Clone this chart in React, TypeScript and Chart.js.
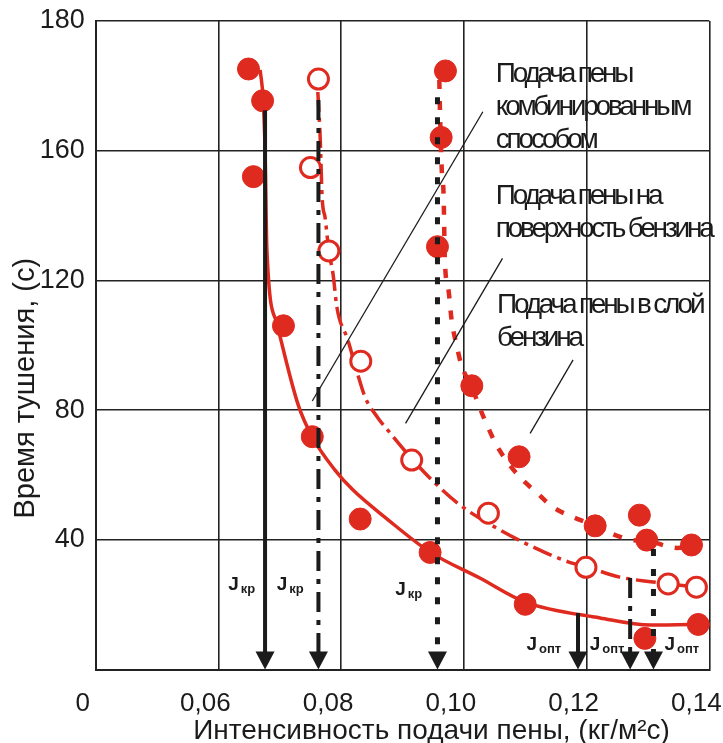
import React, { useEffect, useRef } from 'react';
import { Chart, registerables } from 'chart.js';

Chart.register(...registerables);

// ---------- axes ----------
const xTickValues = [0.04, 0.06, 0.08, 0.1, 0.12, 0.14];
const xTickLabels = ['0', '0,06', '0,08', '0,10', '0,12', '0,14'];
const yTickValues = [0, 40, 80, 120, 160, 200];
const yTickLabels = ['', '40', '80', '120', '160', '180'];
const xTitle = 'Интенсивность подачи пены, (кг/м²с)';
const yTitle = 'Время тушения, (с)';

// ---------- measured points ----------
// combined feed (filled circles, solid curve)
const combX = [0.0649, 0.0672, 0.0657, 0.0706, 0.0753, 0.0831, 0.0945, 0.11, 0.1295, 0.1382];
const combY = [185.2, 175.4, 152.0, 106.0, 71.8, 46.4, 36.1, 20.1, 9.6, 13.9];
// feed onto the surface (hollow circles, dash-dot curve)
const surfX = [0.0763, 0.075, 0.078, 0.0832, 0.0915, 0.104, 0.1199, 0.1333, 0.1379];
const surfY = [182.1, 154.8, 129.1, 95.1, 64.6, 48.2, 31.5, 26.4, 25.4];
// feed into the layer (filled circles, dashed curve)
const layerX = [0.097, 0.0963, 0.0957, 0.1013, 0.109, 0.1214, 0.1286, 0.1298, 0.1371];
const layerY = [184.6, 164.1, 130.4, 87.5, 65.6, 44.3, 47.6, 39.9, 38.4];

// ---------- fitted curves ----------
const combCurveX = [0.0668, 0.0673, 0.0676, 0.0679, 0.0695, 0.073, 0.0753, 0.079, 0.0819, 0.0875, 0.0945, 0.1026, 0.11, 0.1222, 0.1304, 0.14];
const combCurveY = [184.9, 175.7, 160.3, 129.4, 106.9, 81.6, 71.7, 61.5, 55.4, 46.4, 36.2, 28.2, 20.8, 15.9, 13.7, 14.0];
const surfCurveX = [0.0762, 0.0766, 0.0769, 0.0774, 0.078, 0.0787, 0.0793, 0.0811, 0.0826, 0.0839, 0.086, 0.088, 0.0917, 0.0953, 0.0994, 0.1059, 0.1116, 0.117, 0.1201, 0.1254, 0.1308, 0.138];
const surfCurveY = [178.1, 163.3, 145.7, 139.2, 129.1, 121.7, 111.8, 101.6, 91.7, 84.0, 77.6, 72.9, 64.6, 57.5, 50.7, 43.0, 37.5, 33.2, 31.6, 28.5, 27.0, 25.4];
const layerCurveX = [0.096, 0.0961, 0.0964, 0.0967, 0.0969, 0.0975, 0.098, 0.0988, 0.0996, 0.1012, 0.1034, 0.1055, 0.1088, 0.1119, 0.1145, 0.1178, 0.1214, 0.1242, 0.1276, 0.13, 0.1348, 0.1371];
const layerCurveY = [181.8, 172.6, 154.0, 146.3, 126.3, 117.0, 107.8, 100.1, 93.9, 87.4, 77.0, 68.6, 60.0, 54.5, 50.1, 47.0, 44.3, 41.8, 39.9, 39.6, 37.5, 37.8];

// ---------- critical / optimal intensity arrows ----------
const arrowX = [0.0676, 0.0763, 0.0957, 0.1186, 0.1271, 0.1309];
const arrowTop = [172.5, 175.6, 176.5, 17.4, 28.2, 37.2];
const arrowKind = ['solid', 'dashdot', 'dotted', 'solid', 'dashdot', 'dotted'];
const arrowSub = ['кр', 'кр', 'кр', 'опт', 'опт', 'опт'];
const arrowLabelX = [0.0616, 0.0695, 0.0888, 0.1102, 0.1205, 0.1327];
const arrowLabelY = [24.5, 24.5, 23.0, 6.0, 6.0, 6.0];

// ---------- callouts ----------
const noteLines = [
  ['Подача пены', 'комбинированным', 'способом'],
  ['Подача пены на', 'поверхность бензина'],
  ['Подача пены в слой', 'бензина'],
];
const noteX = [0.1052, 0.1052, 0.1054];
const noteY = [181.2, 143.6, 110.0];
const leader1 = [{ x: 0.1031, y: 172.0 }, { x: 0.0753, y: 82.8 }];
const leader2 = [{ x: 0.1063, y: 126.8 }, { x: 0.0905, y: 75.9 }];
const leader3 = [{ x: 0.1178, y: 95.5 }, { x: 0.1108, y: 72.8 }];

// ---------- styles ----------
const RED = '#df2a1f';
const INK = '#1b1b1b';
const GRID = '#222222';
const FONT = "'Liberation Sans', Arial, Helvetica, sans-serif";

const zip = (xs: number[], ys: number[]) => xs.map((x, i) => ({ x, y: ys[i] }));

const dashFor: Record<string, number[]> = {
  solid: [],
  dashdot: [20, 8, 5, 8],
  dotted: [7, 13],
};
const widthFor: Record<string, number> = { solid: 4, dashdot: 4, dotted: 5 };

function drawSpaced(ctx: CanvasRenderingContext2D, text: string, x: number, y: number, spacing: number) {
  const c: any = ctx;
  if ('letterSpacing' in c) {
    c.letterSpacing = spacing + 'px';
    ctx.fillText(text, x, y);
    c.letterSpacing = '0px';
  } else {
    const w = ctx.measureText(text).width;
    const target = w + spacing * text.length;
    ctx.save();
    ctx.translate(x, y);
    ctx.scale(target / w, 1);
    ctx.fillText(text, 0, 0);
    ctx.restore();
  }
}

const overlayPlugin = {
  id: 'overlay',
  afterDatasetsDraw(chart: any) {
    const { ctx } = chart;
    const xs = chart.scales.x;
    const ys = chart.scales.y;
    const HEAD_H = 18;
    const HEAD_W = 9.5;
    arrowX.forEach((v, i) => {
      const px = xs.getPixelForValue(v);
      const top = ys.getPixelForValue(arrowTop[i]);
      const bottom = ys.getPixelForValue(0);
      const kind = arrowKind[i];
      ctx.save();
      ctx.strokeStyle = INK;
      ctx.lineWidth = widthFor[kind];
      ctx.setLineDash(dashFor[kind]);
      ctx.beginPath();
      ctx.moveTo(px, top);
      ctx.lineTo(px, bottom - HEAD_H + 1);
      ctx.stroke();
      ctx.setLineDash([]);
      ctx.fillStyle = INK;
      ctx.beginPath();
      ctx.moveTo(px - HEAD_W, bottom - HEAD_H);
      ctx.lineTo(px + HEAD_W, bottom - HEAD_H);
      ctx.lineTo(px, bottom);
      ctx.closePath();
      ctx.fill();
      // label J with subscript
      const lx = xs.getPixelForValue(arrowLabelX[i]);
      const ly = ys.getPixelForValue(arrowLabelY[i]);
      ctx.textAlign = 'left';
      ctx.textBaseline = 'alphabetic';
      ctx.font = `bold 19px ${FONT}`;
      ctx.fillText('J', lx, ly);
      const jw = ctx.measureText('J').width;
      ctx.font = `bold 13px ${FONT}`;
      ctx.fillText(arrowSub[i], lx + jw + 2, ly + 3);
      ctx.restore();
    });

    // callout texts
    ctx.save();
    ctx.fillStyle = INK;
    ctx.font = `28px ${FONT}`;
    ctx.textAlign = 'left';
    ctx.textBaseline = 'alphabetic';
    noteLines.forEach((lines, i) => {
      const nx = xs.getPixelForValue(noteX[i]);
      const ny = ys.getPixelForValue(noteY[i]);
      lines.forEach((t, k) => drawSpaced(ctx, t, nx, ny + k * 33, -3.2));
    });
    ctx.restore();
  },
  afterDraw(chart: any) {
    const { ctx, chartArea } = chart;
    ctx.save();
    ctx.fillStyle = INK;
    ctx.textAlign = 'center';
    ctx.textBaseline = 'alphabetic';
    ctx.font = `28px ${FONT}`;
    ctx.fillText(xTitle, (chartArea.left + chartArea.right) / 2 + 29, 739);
    ctx.translate(34, (chartArea.top + chartArea.bottom) / 2 + 43);
    ctx.rotate(-Math.PI / 2);
    ctx.font = `29px ${FONT}`;
    ctx.fillText(yTitle, 0, 0);
    ctx.restore();
  },
};

const pointSet = (data: any[], hollow: boolean) => ({
  type: 'line' as const,
  data,
  showLine: false,
  pointRadius: hollow ? 10 : 11,
  pointBorderWidth: hollow ? 3 : 1,
  pointBackgroundColor: hollow ? '#ffffff' : RED,
  pointBorderColor: RED,
  clip: false as any,
});

const curveSet = (data: any[], dash: number[], width: number) => ({
  type: 'line' as const,
  data,
  borderColor: RED,
  borderWidth: width,
  borderDash: dash,
  pointRadius: 0,
  fill: false,
  cubicInterpolationMode: 'monotone' as const,
  clip: false as any,
});

const leaderSet = (data: any[]) => ({
  type: 'line' as const,
  data,
  borderColor: INK,
  borderWidth: 1.3,
  pointRadius: 0,
  fill: false,
  tension: 0,
});

export default function App() {
  const ref = useRef<HTMLCanvasElement>(null);
  useEffect(() => {
    document.body.style.margin = '0';
    const canvas = ref.current!;
    const chart = new Chart(canvas, {
      type: 'line',
      data: {
        datasets: [
          pointSet(zip(combX, combY), false),
          pointSet(zip(surfX, surfY), true),
          pointSet(zip(layerX, layerY), false),
          leaderSet(leader1),
          leaderSet(leader2),
          leaderSet(leader3),
          curveSet(zip(combCurveX, combCurveY), [], 3.5),
          curveSet(zip(surfCurveX, surfCurveY), [20, 6, 4, 6], 3.5),
          curveSet(zip(layerCurveX, layerCurveY), [9, 12], 4.5),
        ] as any,
      },
      options: {
        responsive: false,
        animation: false,
        devicePixelRatio: 1,
        layout: { padding: { top: 21, right: 13.7, left: 0, bottom: 0 } },
        plugins: {
          legend: { display: false },
          tooltip: { enabled: false },
        },
        events: [],
        scales: {
          x: {
            type: 'linear',
            min: 0.04,
            max: 0.14,
            afterBuildTicks: (s: any) => {
              s.ticks = xTickValues.map((v) => ({ value: v }));
            },
            afterFit: (s: any) => {
              s.height = 743 - 669.5;
              s.paddingLeft = 0;
              s.paddingRight = 0;
            },
            grid: { color: GRID, lineWidth: 1.6, drawTicks: false },
            border: { color: GRID, width: 2 },
            ticks: {
              autoSkip: false,
              maxRotation: 0,
              padding: 19,
              labelOffset: -13,
              color: INK,
              font: { family: FONT, size: 26 },
              callback: (v: any) => {
                const i = xTickValues.findIndex((t) => Math.abs(t - v) < 1e-6);
                return i >= 0 ? xTickLabels[i] : '';
              },
            },
          },
          y: {
            type: 'linear',
            min: 0,
            max: 200,
            afterBuildTicks: (s: any) => {
              s.ticks = yTickValues.map((v) => ({ value: v }));
            },
            afterFit: (s: any) => {
              s.width = 95.7;
              s.paddingTop = 0;
              s.paddingBottom = 0;
            },
            grid: { color: GRID, lineWidth: 1.6, drawTicks: false },
            border: { color: GRID, width: 2 },
            ticks: {
              autoSkip: false,
              padding: 11,
              color: INK,
              font: { family: FONT, size: 27 },
              callback: (v: any) => {
                const i = yTickValues.findIndex((t) => Math.abs(t - v) < 1e-6);
                return i >= 0 ? yTickLabels[i] : '';
              },
            },
          },
        },
      } as any,
      plugins: [overlayPlugin],
    });
    return () => chart.destroy();
  }, []);
  return (
    <div style={{ width: 723, height: 743 }}>
      <canvas ref={ref} width={723} height={743} style={{ display: 'block' }} />
    </div>
  );
}
